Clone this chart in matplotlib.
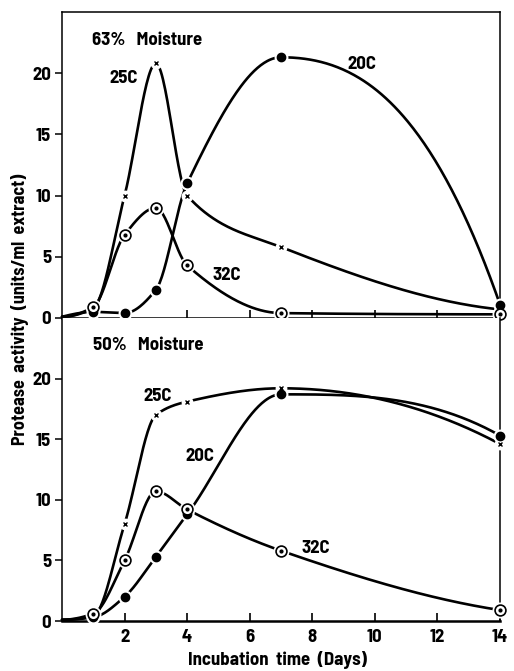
import numpy as np
import matplotlib
matplotlib.use("Agg")
import matplotlib.pyplot as plt

# ---------------- data ----------------
days = [0, 1, 2, 3, 4, 7, 14]

# 63% moisture
top_20C = [0.1, 0.5, 0.4, 2.3, 11.0, 21.3, 1.1]
top_25C = [0.1, 0.8, 10.0, 20.8, 10.0, 5.8, 0.7]
top_32C = [0.1, 0.9, 6.8, 9.0, 4.3, 0.4, 0.3]

# 50% moisture
bot_20C = [0.1, 0.3, 2.0, 5.3, 8.8, 18.7, 15.3]
bot_25C = [0.1, 0.4, 8.0, 17.0, 18.1, 19.2, 14.6]
bot_32C = [0.1, 0.6, 5.0, 10.7, 9.2, 5.8, 0.9]

yticks = [0, 5, 10, 15, 20]
xticks = [2, 4, 6, 8, 10, 12, 14]

FONT = ['Barlow Semi Condensed', 'DejaVu Sans']
plt.rcParams['font.family'] = FONT
plt.rcParams['font.weight'] = 'bold'


def pchip(x, y, n=400):
    x = np.asarray(x, float); y = np.asarray(y, float)
    h = np.diff(x); d = np.diff(y) / h
    m = np.zeros_like(y)
    for k in range(1, len(x) - 1):
        if d[k - 1] * d[k] > 0:
            w1 = 2 * h[k] + h[k - 1]; w2 = h[k] + 2 * h[k - 1]
            m[k] = (w1 + w2) / (w1 / d[k - 1] + w2 / d[k])
    def endslope(h0, h1, d0, d1):
        s = ((2 * h0 + h1) * d0 - h0 * d1) / (h0 + h1)
        if np.sign(s) != np.sign(d0):
            s = 0.0
        elif np.sign(d0) != np.sign(d1) and abs(s) > abs(3 * d0):
            s = 3 * d0
        return s
    m[0] = endslope(h[0], h[1], d[0], d[1])
    m[-1] = endslope(h[-1], h[-2], d[-1], d[-2])
    xs = np.linspace(x[0], x[-1], n)
    idx = np.clip(np.searchsorted(x, xs) - 1, 0, len(x) - 2)
    t = (xs - x[idx]) / h[idx]
    h00 = 2 * t**3 - 3 * t**2 + 1; h10 = t**3 - 2 * t**2 + t
    h01 = -2 * t**3 + 3 * t**2; h11 = t**3 - t**2
    ys = h00 * y[idx] + h10 * h[idx] * m[idx] + h01 * y[idx + 1] + h11 * h[idx] * m[idx + 1]
    return xs, ys


fig = plt.figure(figsize=(5.14, 6.71), dpi=100)
L, R = 62 / 514, 500 / 514
ax1 = fig.add_axes([L, 1 - 318 / 671, R - L, (318 - 12) / 671])
ax2 = fig.add_axes([L, 1 - 621 / 671, R - L, (621 - 318) / 671])

LW = 1.9


def draw_series(ax, y, kind):
    xs, ys = pchip(days, y)
    ax.plot(xs, ys, color='black', lw=LW, zorder=2, solid_capstyle='round', clip_on=False)
    mx, my = days[1:], y[1:]
    if kind == 'dot':
        ax.plot(mx, my, ls='none', marker='o', ms=9, mfc='white', mec='white', zorder=3, clip_on=False)
        ax.plot(mx, my, ls='none', marker='o', ms=6, mfc='black', mec='black', zorder=4, clip_on=False)
    elif kind == 'x':
        ax.plot(mx, my, ls='none', marker='o', ms=7.5, mfc='white', mec='white', zorder=3, clip_on=False)
        ax.plot(mx, my, ls='none', marker='x', ms=3.2, mew=1.0, color='black', zorder=4, clip_on=False)
    else:
        ax.plot(mx, my, ls='none', marker='o', ms=10.5, mfc='white', mec='white', zorder=3, clip_on=False)
        ax.plot(mx, my, ls='none', marker='o', ms=7.8, mfc='white', mec='black', mew=1.2, zorder=4, clip_on=False)
        ax.plot(mx, my, ls='none', marker='o', ms=2.0, mfc='black', mec='black', zorder=5, clip_on=False)


TS = 13.5
for ax in (ax1, ax2):
    ax.set_xlim(0, 14)
    ax.set_ylim(0, 25)
    ax.set_yticks(yticks)
    ax.set_xticks(xticks)
    ax.tick_params(axis='y', direction='out', length=5, width=1.1, pad=3, labelsize=TS)
    ax.tick_params(axis='x', direction='in', length=6, width=1.2, pad=6, labelsize=TS)
    for s in ax.spines.values():
        s.set_linewidth(1.1)
    ax.spines['bottom'].set_linewidth(1.8)
    for lab in ax.get_xticklabels() + ax.get_yticklabels():
        lab.set_fontweight('bold')

ax1.tick_params(axis='x', labelbottom=False)
ax2.spines['top'].set_visible(False)

draw_series(ax1, top_20C, 'dot')
draw_series(ax1, top_25C, 'x')
draw_series(ax1, top_32C, 'circ')
draw_series(ax2, bot_20C, 'dot')
draw_series(ax2, bot_25C, 'x')
draw_series(ax2, bot_32C, 'circ')

ax1.text(0.96, 22.7, '63%   Moisture', fontsize=TS, fontweight='bold', ha='left', va='center')
ax1.text(1.97, 19.6, '25C', fontsize=TS, fontweight='bold', ha='center', va='center')
ax1.text(9.6, 20.7, '20C', fontsize=TS, fontweight='bold', ha='center', va='center')
ax1.text(5.28, 3.5, '32C', fontsize=TS, fontweight='bold', ha='center', va='center')
ax2.text(0.99, 22.7, '50%   Moisture', fontsize=TS, fontweight='bold', ha='left', va='center')
ax2.text(3.07, 18.5, '25C', fontsize=TS, fontweight='bold', ha='center', va='center')
ax2.text(4.41, 13.6, '20C', fontsize=TS, fontweight='bold', ha='center', va='center')
ax2.text(8.12, 6.0, '32C', fontsize=TS, fontweight='bold', ha='center', va='center')

fig.text(20 / 514, 1 - 309 / 671, 'Protease  activity  (units/ml  extract)', rotation=90,
         fontsize=13, fontweight='bold', ha='center', va='center')
fig.text(277 / 514, 1 - 660 / 671, 'Incubation  time  (Days)', fontsize=TS,
         fontweight='bold', ha='center', va='center')

fig.savefig('out.png', dpi=100)
